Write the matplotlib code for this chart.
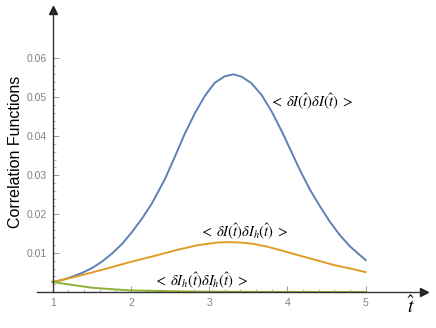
import numpy as np
import matplotlib.pyplot as plt
from matplotlib.ticker import FixedLocator, StrMethodFormatter

plt.rcParams['font.family'] = ['Liberation Sans', 'DejaVu Sans']
plt.rcParams['mathtext.fontset'] = 'stix'

# values
t_blue = [1.0, 1.125, 1.247, 1.375, 1.5, 1.63, 1.76, 1.885, 2.01, 2.14, 2.27, 2.44,
          2.563, 2.69, 2.82, 2.95, 3.07, 3.2, 3.31, 3.415, 3.54, 3.67, 3.8, 3.93,
          4.03, 4.16, 4.29, 4.42, 4.54, 4.67, 4.8, 4.93, 5.0]
blue = [0.0025, 0.0031, 0.0039, 0.0049, 0.0061, 0.0078, 0.0099, 0.0123, 0.0153,
        0.0188, 0.0228, 0.0292, 0.0348, 0.0407, 0.0460, 0.0505, 0.0537, 0.0554,
        0.0559, 0.0553, 0.0536, 0.0506, 0.0463, 0.0412, 0.0369, 0.0313, 0.0262,
        0.0219, 0.0181, 0.0146, 0.0117, 0.0094, 0.0082]

t_orange = [1.0, 1.25, 1.5, 1.76, 2.01, 2.27, 2.59, 2.85, 3.1, 3.25, 3.4, 3.55,
            3.75, 3.97, 4.2, 4.4, 4.6, 4.83, 5.0]
orange = [0.0026, 0.0037, 0.0050, 0.0064, 0.0078, 0.0091, 0.0108, 0.0120, 0.0127,
          0.0128, 0.0127, 0.0124, 0.0116, 0.0104, 0.0091, 0.0080, 0.0069, 0.0059,
          0.0051]

t_green = [1.0, 1.25, 1.5, 1.76, 2.01, 2.27, 2.6, 3.0, 3.5, 4.0, 4.5, 5.0]
green = [0.0026, 0.0018, 0.0011, 0.0007, 0.0004, 0.0003, 0.00015, 0.00007,
         0.00003, 0.00001, 0.0, 0.0]

labels = [r'$<\;\delta I(\hat{t})\delta I(\hat{t})\;>$',
          r'$<\;\delta I(\hat{t})\delta I_h(\hat{t})\;>$',
          r'$<\;\delta I_h(\hat{t})\delta I_h(\hat{t})\;>$']
label_pos = [(4.307, 0.0489), (3.451, 0.01567), (2.889, 0.00308)]

colors = ['#5E81B5', '#E19C24', '#8FB032']
xticks = [1, 2, 3, 4, 5]
yticks = [0.01, 0.02, 0.03, 0.04, 0.05, 0.06]

fig = plt.figure(figsize=(4.36, 3.28), dpi=100)
ax = fig.add_axes([0, 0, 1, 1])
ax.set_xlim(0.327, 5.899)
ax.set_ylim(-0.00925, 0.07498)

ax.plot(t_blue, blue, color=colors[0], lw=1.4)
ax.plot(t_orange, orange, color=colors[1], lw=1.4)
ax.plot(t_green, green, color=colors[2], lw=1.4)

for txt, (x, y) in zip(labels, label_pos):
    ax.text(x, y, txt, fontsize=10.5, ha='center', va='center')

# axes through the origin of the data, with arrow heads
for s in ['top', 'right']:
    ax.spines[s].set_visible(False)
ax.spines['left'].set_position(('data', 1))
ax.spines['bottom'].set_position(('data', 0))
ax.spines['left'].set_bounds(0, 0.0725)
ax.spines['bottom'].set_bounds(0.8, 5.75)
for s in ['left', 'bottom']:
    ax.spines[s].set_color('#333333')
    ax.spines[s].set_linewidth(1.0)
ax.plot(5.75, 0, marker='>', color='#222222', ms=6, clip_on=False)
ax.plot(1, 0.0725, marker='^', color='#222222', ms=6, clip_on=False)

ax.xaxis.set_major_locator(FixedLocator(xticks))
ax.xaxis.set_minor_locator(FixedLocator(np.arange(1, 5.01, 0.2)))
ax.yaxis.set_major_locator(FixedLocator(yticks))
ax.yaxis.set_minor_locator(FixedLocator(np.arange(0, 0.0601, 0.002)))
ax.yaxis.set_major_formatter(StrMethodFormatter('{x:.2f}'))
ax.tick_params(which='major', direction='in', length=4, width=0.7, color='#999999',
               labelsize=7.5, labelcolor='#808080', pad=4)
ax.tick_params(which='minor', direction='in', length=2.5, width=0.6, color='#aaaaaa')

ax.text(0.035, 1 - 152 / 328, 'Correlation Functions', transform=ax.transAxes,
        rotation=90, fontsize=11.5, ha='center', va='center')
ax.text(411 / 436, 1 - 306 / 328, r'$\hat{t}$', transform=ax.transAxes,
        fontsize=14, ha='center', va='center')

fig.savefig('out.png', dpi=100)
